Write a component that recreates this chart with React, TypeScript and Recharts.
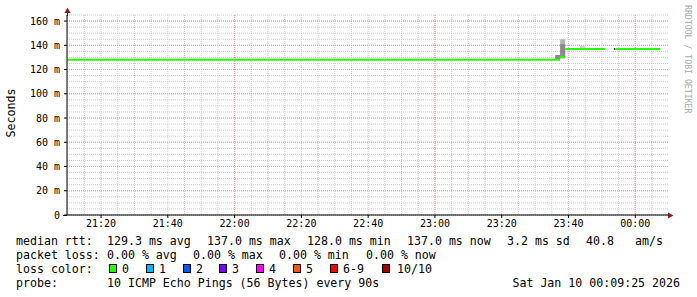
import { Area, CartesianGrid, ComposedChart, Line, XAxis, YAxis } from 'recharts'

// time is in minutes after 21:00, rtt in ms
const timeDomain = [9.8, 189.8]
const rttDomain = [0, 165]

const timeTicks = [20, 40, 60, 80, 100, 120, 140, 160, 180]
const timeLabels = ['21:20', '21:40', '22:00', '22:20', '22:40', '23:00', '23:20', '23:40', '00:00']
const rttTicks = [0, 20, 40, 60, 80, 100, 120, 140, 160]
const rttLabels = ['0', '20 m', '40 m', '60 m', '80 m', '100 m', '120 m', '140 m', '160 m']

// median rtt, one step segment per entry
const medianStart = [9.8, 157.5, 159, 174]
const medianEnd = [157.5, 159, 171, 187.5]
const medianRtt = [128, 130.5, 137, 137]

// smoke (spread of the 10 pings)
const smokeStart = [156, 157.5, 157.5, 163.5, 173.6]
const smokeEnd = [157.5, 159, 159, 165, 174]
const smokeLow = [128, 129, 130, 137, 136.2]
const smokeHigh = [132, 145, 141, 139.5, 137.8]

const rttStats = ['129.3 ms avg', '137.0 ms max', '128.0 ms min', '137.0 ms now', '3.2 ms sd', '40.8', 'am/s']
const lossStats = ['0.00 % avg', '0.00 % max', '0.00 % min', '0.00 % now']
const lossNames = ['0', '1', '2', '3', '4', '5', '6-9', '10/10']
const lossColors = ['#26ff00', '#00b8ff', '#0059ff', '#7e00ff', '#ff00ff', '#ff5500', '#ff0000', '#a10000']
const smokeFills = ['#8c8c8c', '#b4b4b4', '#8a8a8a', '#cfcfcf', '#333333']

const FONT = '"DejaVu Sans Mono", monospace'
const minorY = Array.from({ length: 34 }, (_, i) => i * 5)
const majorY = rttTicks
const minorX = Array.from({ length: 36 }, (_, i) => 10 + i * 5)
const majorX = [60, 120, 180]

const rttX = [107, 207, 307, 407, 507, 586, 635]
const lossX = [107, 193, 279, 366]
const boxX = [109, 146, 183, 219, 256, 293, 330, 382]

export default function App() {
  return (
    <div style={{ position: 'fixed', left: 0, top: 0, width: 697, height: 297, background: '#fff' }}>
      <ComposedChart width={697} height={297} margin={{ top: 15, right: 29, bottom: 0, left: 0 }}>
        <CartesianGrid
          horizontalValues={minorY}
          verticalValues={minorX}
          stroke="#cccccc"
          strokeDasharray="1 1"
        />
        <CartesianGrid
          horizontalValues={majorY}
          verticalValues={majorX}
          stroke="#e8a0a0"
          strokeDasharray="1 1"
        />
        <XAxis
          type="number"
          dataKey="t"
          domain={timeDomain}
          allowDataOverflow
          ticks={timeTicks}
          interval={0}
          tickFormatter={(v: number) => timeLabels[timeTicks.indexOf(v)]}
          height={82}
          tickSize={3}
          tickMargin={2}
          stroke="#000"
          tick={{ fontSize: 10, fontFamily: FONT, fill: '#000' }}
        />
        <YAxis
          type="number"
          domain={rttDomain}
          allowDataOverflow
          ticks={rttTicks}
          interval={0}
          tickFormatter={(v: number) => rttLabels[rttTicks.indexOf(v)]}
          width={67}
          tickSize={3}
          tickMargin={4}
          stroke="#000"
          tick={{ fontSize: 10, fontFamily: FONT, fill: '#000' }}
        />
        {smokeStart.map((s, i) => (
          <Area
            key={'smoke' + i}
            data={[
              { t: s, r: [smokeLow[i], smokeHigh[i]] },
              { t: smokeEnd[i], r: [smokeLow[i], smokeHigh[i]] },
            ]}
            dataKey="r"
            type="linear"
            stroke="none"
            fill={smokeFills[i]}
            fillOpacity={1}
            isAnimationActive={false}
          />
        ))}
        {medianStart.map((s, i) => (
          <Line
            key={'median' + i}
            data={[
              { t: s, v: medianRtt[i] },
              { t: medianEnd[i], v: medianRtt[i] },
            ]}
            dataKey="v"
            type="linear"
            stroke={lossColors[0]}
            strokeWidth={2}
            dot={false}
            isAnimationActive={false}
          />
        ))}
      </ComposedChart>

      <svg width={697} height={297} style={{ position: 'absolute', left: 0, top: 0, pointerEvents: 'none' }}>
        {/* axis extensions and arrows */}
        <line x1={67.5} y1={10} x2={67.5} y2={16} stroke="#000" />
        <line x1={63} y1={215.5} x2={67} y2={215.5} stroke="#000" />
        <polygon points="64.5,13 70.5,13 67.5,7.5" fill="#8b1a1a" />
        <polygon points="668,212.5 668,218.5 673.5,215.5" fill="#8b1a1a" />

        <text x={14.5} y={113} transform="rotate(-90 14.5 113)" textAnchor="middle" fontFamily={FONT} fontSize={11.6} fill="#000">
          Seconds
        </text>
        <text x={685} y={5} transform="rotate(90 685 5)" fontFamily={FONT} fontSize={8.2} fill="#a8a8a8">
          RRDTOOL / TOBI OETIKER
        </text>

        <g fontFamily={FONT} fontSize={11.6} fill="#000">
          <text x={16} y={245}>median rtt:</text>
          {rttStats.map((s, i) => (
            <text key={s + i} x={rttX[i]} y={245}>{s}</text>
          ))}
          <text x={16} y={259}>packet loss:</text>
          {lossStats.map((s, i) => (
            <text key={s + i} x={lossX[i]} y={259}>{s}</text>
          ))}
          <text x={16} y={272.5}>loss color:</text>
          {lossNames.map((n, i) => (
            <g key={n}>
              <rect x={boxX[i] + 0.5} y={264.5} width={7} height={8} fill={lossColors[i]} stroke="#000" />
              <text x={boxX[i] + (i === 7 ? 15 : 13)} y={272.5}>{n}</text>
            </g>
          ))}
          <text x={16} y={286.5}>probe:</text>
          <text x={107} y={286.5}>10 ICMP Echo Pings (56 Bytes) every 90s</text>
          <text x={680} y={286.5} textAnchor="end">Sat Jan 10 00:09:25 2026</text>
        </g>
      </svg>
    </div>
  )
}
